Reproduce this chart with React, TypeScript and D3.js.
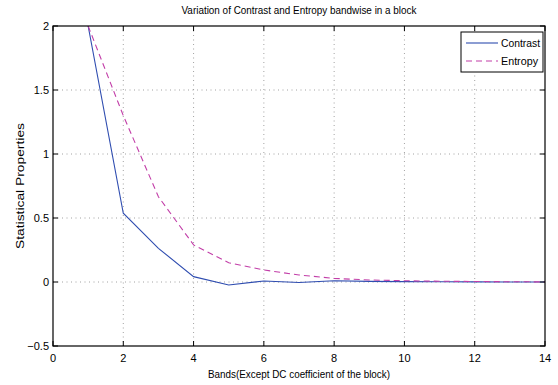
import React from "react";
import * as d3 from "d3";

const bands = [1, 2, 3, 4, 5, 6, 7, 8, 9, 10, 11, 12, 13, 14];
const contrast = [2.0, 0.537, 0.263, 0.042, -0.023, 0.008, -0.004, 0.01, 0.005, 0.003, 0.002, 0.001, 0.0, 0.0];
const entropy = [2.0, 1.3, 0.666, 0.29, 0.15, 0.094, 0.055, 0.028, 0.016, 0.01, 0.006, 0.004, 0.002, 0.001];
const xTicks = [0, 2, 4, 6, 8, 10, 12, 14];
const yTicks = [-0.5, 0, 0.5, 1, 1.5, 2];

const W = 558;
const H = 385;
const margin = { top: 26, right: 13, bottom: 39, left: 53 };
const font = "Liberation Sans, Arial, Helvetica, sans-serif";

export default function App() {
  const x = d3.scaleLinear().domain([0, 14]).range([margin.left, W - margin.right]);
  const y = d3.scaleLinear().domain([-0.5, 2]).range([H - margin.bottom, margin.top]);

  const line = d3
    .line<number>()
    .x((_, i) => x(bands[i]))
    .y((d) => y(d));

  const x0 = x.range()[0];
  const x1 = x.range()[1];
  const y0 = y.range()[0];
  const y1 = y.range()[1];
  const tick = 5;

  return (
    <svg
      width={W}
      height={H}
      style={{ position: "absolute", left: 0, top: 0, background: "#fff" }}
      fontFamily={font}
    >
      <defs>
        <clipPath id="plot">
          <rect x={x0} y={y1} width={x1 - x0} height={y0 - y1} />
        </clipPath>
      </defs>

      {/* grid */}
      <g stroke="#8a8a8a" strokeWidth={0.8} strokeDasharray="1,3.5">
        {xTicks.slice(1, -1).map((t) => (
          <line key={"gx" + t} x1={x(t)} x2={x(t)} y1={y1} y2={y0} />
        ))}
        {yTicks.slice(1, -1).map((t) => (
          <line key={"gy" + t} x1={x0} x2={x1} y1={y(t)} y2={y(t)} />
        ))}
      </g>

      {/* series */}
      <g clipPath="url(#plot)" fill="none">
        <path d={line(contrast) || ""} stroke="#2f4db0" strokeWidth={1.1} />
        <path d={line(entropy) || ""} stroke="#c23ea8" strokeWidth={1.1} strokeDasharray="6,4" />
      </g>

      {/* box and ticks */}
      <rect x={x0} y={y1} width={x1 - x0} height={y0 - y1} fill="none" stroke="#000" strokeWidth={1.2} />
      <g stroke="#000" strokeWidth={1}>
        {xTicks.map((t) => (
          <g key={"tx" + t}>
            <line x1={x(t)} x2={x(t)} y1={y0} y2={y0 - tick} />
            <line x1={x(t)} x2={x(t)} y1={y1} y2={y1 + tick} />
          </g>
        ))}
        {yTicks.map((t) => (
          <g key={"ty" + t}>
            <line x1={x0} x2={x0 + tick} y1={y(t)} y2={y(t)} />
            <line x1={x1} x2={x1 - tick} y1={y(t)} y2={y(t)} />
          </g>
        ))}
      </g>

      {/* tick labels */}
      <g fontSize={11} fill="#000">
        {xTicks.map((t) => (
          <text key={"lx" + t} x={x(t)} y={y0 + 16} textAnchor="middle">
            {t}
          </text>
        ))}
        {yTicks.map((t) => (
          <text key={"ly" + t} x={x0 - 4} y={y(t) + 4} textAnchor="end">
            {t < 0 ? "\u2212" + Math.abs(t) : t}
          </text>
        ))}
      </g>

      {/* title and labels */}
      <text x={(x0 + x1) / 2} y={14} textAnchor="middle" fontSize={10.5} textLength={235} lengthAdjust="spacingAndGlyphs">
        Variation of Contrast and Entropy bandwise in a block
      </text>
      <text x={(x0 + x1) / 2} y={378} textAnchor="middle" fontSize={10.5} textLength={182} lengthAdjust="spacingAndGlyphs">
        Bands(Except DC coefficient of the block)
      </text>
      <text
        transform={`translate(24,${(y0 + y1) / 2}) rotate(-90)`}
        textAnchor="middle"
        fontSize={10.5}
        textLength={126}
        lengthAdjust="spacingAndGlyphs"
      >
        Statistical Properties
      </text>

      {/* legend */}
      <g>
        <rect x={461} y={32} width={82} height={40} fill="#fff" stroke="#000" strokeWidth={1} />
        <line x1={466} x2={498} y1={43} y2={43} stroke="#2f4db0" strokeWidth={1.1} />
        <line x1={466} x2={498} y1={61} y2={61} stroke="#c23ea8" strokeWidth={1.1} strokeDasharray="6,4" />
        <text x={501} y={47} fontSize={10.5} textLength={39} lengthAdjust="spacingAndGlyphs">Contrast</text>
        <text x={501} y={65} fontSize={10.5} textLength={37} lengthAdjust="spacingAndGlyphs">Entropy</text>
      </g>
    </svg>
  );
}
